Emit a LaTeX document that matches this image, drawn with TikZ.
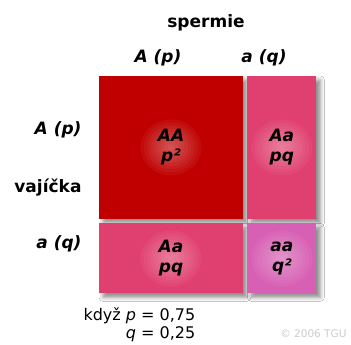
\documentclass[tikz,border=0pt]{standalone}
\usepackage{fontspec}
\setmainfont{DejaVu Sans}
\usetikzlibrary{positioning, shadows.blur}
\definecolor{homored}{HTML}{C00000}
\definecolor{heteropink}{HTML}{E0406F}
\definecolor{recorchid}{HTML}{D860B4}

\begin{document}
\begin{tikzpicture}[x=1pt, y=-1pt,
    cell/.style={rectangle, inner sep=0pt, fill=#1, align=center,
      font=\fontsize{17}{20}\selectfont\bfseries\itshape,
      path picture={\foreach \r in {1,...,9}
        \fill[white, opacity=0.045] (path picture bounding box.center) ellipse ({3.4*\r} and {3.1*\r});},
      blur shadow={shadow xshift=4pt, shadow yshift=-4pt,
        shadow blur radius=4pt, shadow opacity=45}},
    lab/.style={font=\fontsize{17}{20}\selectfont\bfseries\itshape},
    title/.style={font=\fontsize{17}{20}\selectfont\bfseries},
    note/.style={font=\fontsize{16}{18}\selectfont}]
  \useasboundingbox[fill=white] (0,0) rectangle (351,345);

  % header labels
  \node (spermie) [title, anchor=base] at (206,28) {spermie};
  \node (colA) [lab, anchor=base] at (158,63) {A (p)};
  \node (cola) [lab, anchor=base] at (264,63) {a (q)};
  \node (rowA) [lab, anchor=base east] at (85,135) {A (p)};
  \node (vajicka) [title, anchor=base east] at (85,192) {vajíčka};
  \node (rowa) [lab, anchor=base east] at (85,248) {a (q)};

  % punnett square
  \node (AA) [cell=homored, minimum width=144, minimum height=143] at (171,147.5) {AA\\p²};
  \node (AaTop) [cell=heteropink, minimum width=69, minimum height=143, right=4pt of AA] {Aa\\pq};
  \node (AaLow) [cell=heteropink, minimum width=144, minimum height=70, below=4pt of AA] {Aa\\pq};
  \node (aa) [cell=recorchid, minimum width=69, minimum height=70, below=4pt of AaTop] {aa\\q²};

  % frequencies
  \node (pval) [note, anchor=base west] at (80,320) {když \textit{p} = 0,75};
  \node (qval) [note, anchor=base east] at ([yshift=-18pt]pval.base east) {\textit{q} = 0,25};
  \node (copy) [anchor=base east, text=gray!40, font=\fontsize{10.5}{12}\selectfont] at (350,337) {© 2006 TGU};
\end{tikzpicture}
\end{document}
